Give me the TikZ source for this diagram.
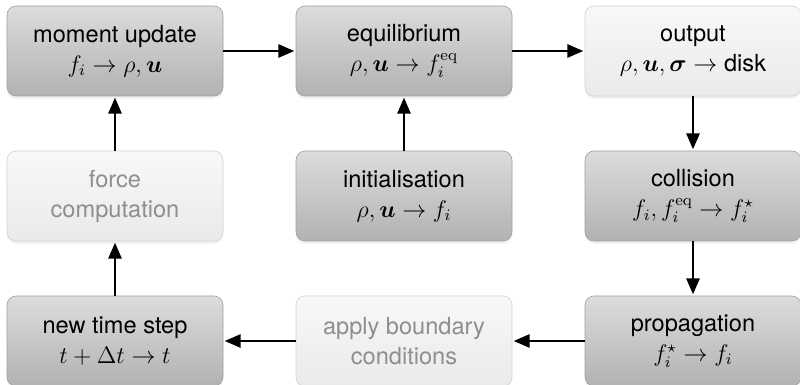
\documentclass[tikz,border=0pt]{standalone}
\usepackage{amsmath}
\usepackage{bm}
\usepackage[no-math]{fontspec}
\setmainfont{TeX Gyre Heros}
\usepackage{tikz}
\usetikzlibrary{arrows.meta, positioning, shadows}

\definecolor{boxtop}{HTML}{DCDCDC}
\definecolor{boxbot}{HTML}{B2B2B2}
\definecolor{lighttop}{HTML}{F8F8F8}
\definecolor{lightbot}{HTML}{EAEAEA}
\definecolor{lightline}{HTML}{D2D2D2}
\definecolor{fadetext}{HTML}{8E8E8E}

\begin{document}
\begin{tikzpicture}[
    every node/.style={font=\fontsize{11.8}{15}\selectfont},
    stepbox/.style={rounded corners=4.5pt, minimum width=108pt, minimum height=45pt,
      inner sep=2pt, outer sep=0pt, align=center, draw=boxbot!90!black, line width=0.3pt,
      top color=boxtop, bottom color=boxbot,
      drop shadow={opacity=0.12, shadow xshift=0pt, shadow yshift=-1.3pt}},
    lightbox/.style={stepbox, top color=lighttop, bottom color=lightbot, draw=lightline},
    fadebox/.style={lightbox, text=fadetext},
    flow/.style={-{Triangle[length=8pt, width=6.5pt]}, line width=1.3pt, black, shorten >=0.8pt}
  ]

    \useasboundingbox (0,0) rectangle (400pt,-192.5pt);

    % Top row
    \node[stepbox] (moment) at (57.5pt,-25.5pt) {moment update\\ $f_i \rightarrow \rho, \bm{u}$};
    \node[stepbox, right=36.5pt of moment] (equil) {equilibrium\\ $\rho, \bm{u} \rightarrow f_i^{\mathrm{eq}}$};
    \node[lightbox, right=36.5pt of equil] (output) {output\\ $\rho, \bm{u}, \bm{\sigma} \rightarrow \text{disk}$};

    % Middle row
    \node[fadebox, below=27.5pt of moment] (force) {force\\ computation};
    \node[stepbox, below=27.5pt of equil] (init) {initialisation\\ $\rho, \bm{u} \rightarrow f_i$};
    \node[stepbox, below=27.5pt of output] (collide) {collision\\ $f_i, f_i^{\mathrm{eq}} \rightarrow f_i^{\star}$};

    % Bottom row
    \node[stepbox, below=27.5pt of force] (newstep) {new time step\\ $t + \Delta t \rightarrow t$};
    \node[fadebox, below=27.5pt of init] (boundary) {apply boundary\\ conditions};
    \node[stepbox, below=27.5pt of collide] (propagate) {propagation\\ $f_i^{\star} \rightarrow f_i$};

    % Loop connectors
    \draw[flow] (moment) -- (equil);
    \draw[flow] (equil) -- (output);
    \draw[flow] (output) -- (collide);
    \draw[flow] (collide) -- (propagate);
    \draw[flow] (propagate) -- (boundary);
    \draw[flow] (boundary) -- (newstep);
    \draw[flow] (newstep) -- (force);
    \draw[flow] (force) -- (moment);
    \draw[flow] (init) -- (equil);

\end{tikzpicture}
\end{document}
